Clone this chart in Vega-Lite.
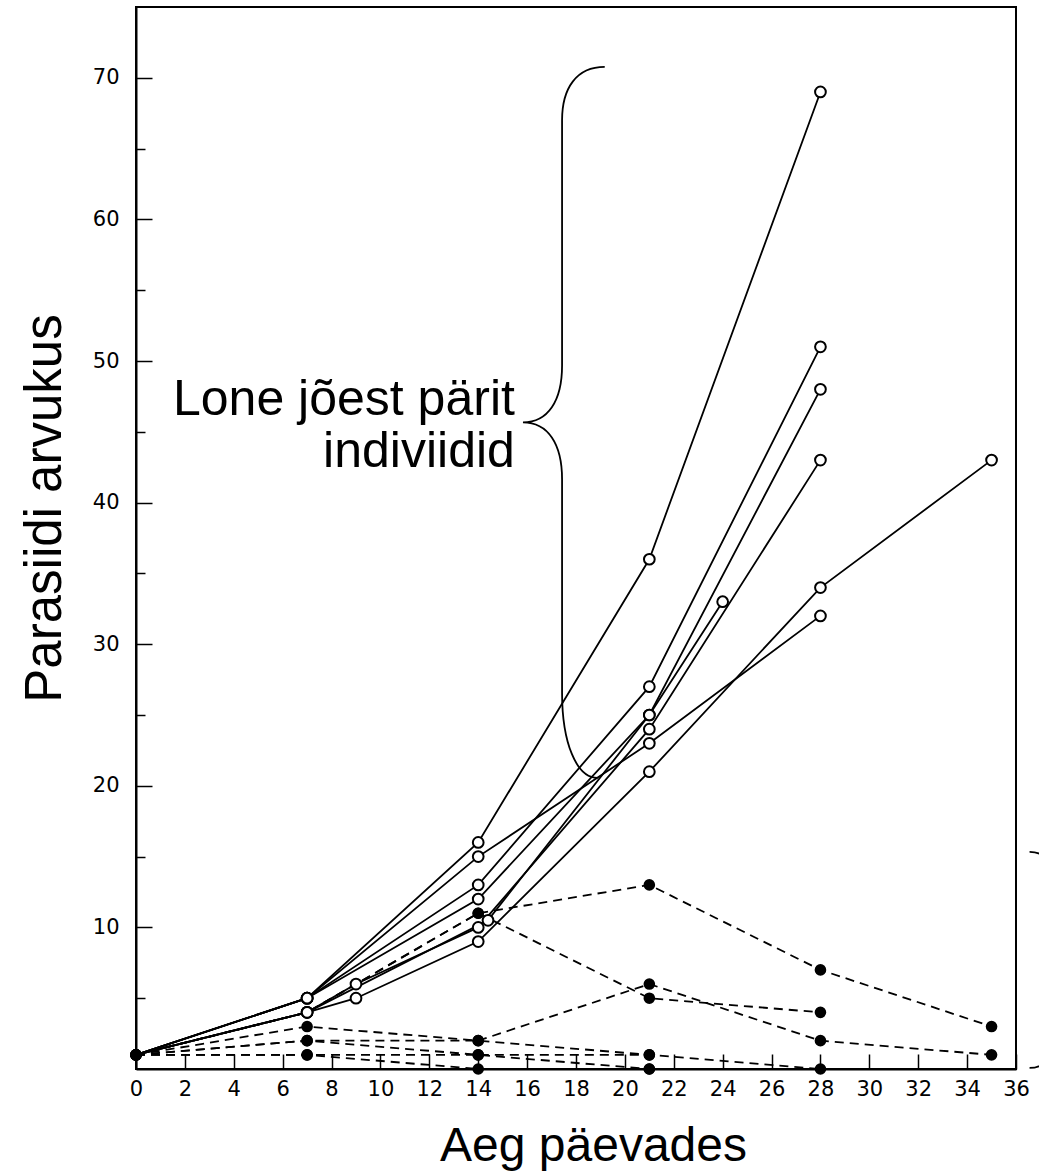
{
  "$schema": "https://vega.github.io/schema/vega-lite/v6.json",
  "width": 880,
  "height": 1062,
  "autosize": "none",
  "padding": {"left": 136, "top": 7, "right": 23, "bottom": 107},
  "background": "white",
  "config": {
    "view": {"stroke": "black", "strokeWidth": 2},
    "axis": {
      "domainColor": "black",
      "domainWidth": 2,
      "tickColor": "black",
      "tickWidth": 1.5,
      "grid": false,
      "labelColor": "black",
      "labelFont": "DejaVu Sans",
      "labelFontSize": 21,
      "titleFont": "Liberation Sans",
      "titleFontWeight": "normal",
      "titleColor": "black"
    }
  },
  "datasets": {
    "lone": [
      {"id": "L1", "day": 0, "n": 1}, {"id": "L1", "day": 7, "n": 5}, {"id": "L1", "day": 14, "n": 16}, {"id": "L1", "day": 21, "n": 36}, {"id": "L1", "day": 28, "n": 69},
      {"id": "L2", "day": 0, "n": 1}, {"id": "L2", "day": 7, "n": 5}, {"id": "L2", "day": 14, "n": 15}, {"id": "L2", "day": 21, "n": 23}, {"id": "L2", "day": 28, "n": 32},
      {"id": "L3", "day": 0, "n": 1}, {"id": "L3", "day": 7, "n": 4}, {"id": "L3", "day": 9, "n": 5}, {"id": "L3", "day": 14, "n": 9}, {"id": "L3", "day": 21, "n": 21}, {"id": "L3", "day": 28, "n": 34}, {"id": "L3", "day": 35, "n": 43},
      {"id": "L4", "day": 0, "n": 1}, {"id": "L4", "day": 7, "n": 4}, {"id": "L4", "day": 9, "n": 6}, {"id": "L4", "day": 14, "n": 10}, {"id": "L4", "day": 21, "n": 24}, {"id": "L4", "day": 28, "n": 43},
      {"id": "L5", "day": 0, "n": 1}, {"id": "L5", "day": 7, "n": 5}, {"id": "L5", "day": 14, "n": 13}, {"id": "L5", "day": 21, "n": 27}, {"id": "L5", "day": 28, "n": 51},
      {"id": "L6", "day": 0, "n": 1}, {"id": "L6", "day": 7, "n": 5}, {"id": "L6", "day": 14, "n": 12}, {"id": "L6", "day": 21, "n": 25}, {"id": "L6", "day": 28, "n": 48},
      {"id": "L7", "day": 0, "n": 1}, {"id": "L7", "day": 7, "n": 4}, {"id": "L7", "day": 14.4, "n": 10.5}, {"id": "L7", "day": 21, "n": 25}, {"id": "L7", "day": 24, "n": 33}
    ],
    "other": [
      {"id": "D1", "day": 0, "n": 1}, {"id": "D1", "day": 7, "n": 4}, {"id": "D1", "day": 14, "n": 11}, {"id": "D1", "day": 21, "n": 13}, {"id": "D1", "day": 28, "n": 7}, {"id": "D1", "day": 35, "n": 3},
      {"id": "D2", "day": 0, "n": 1}, {"id": "D2", "day": 7, "n": 4}, {"id": "D2", "day": 14, "n": 11}, {"id": "D2", "day": 21, "n": 5}, {"id": "D2", "day": 28, "n": 4},
      {"id": "D3", "day": 0, "n": 1}, {"id": "D3", "day": 7, "n": 3}, {"id": "D3", "day": 14, "n": 2}, {"id": "D3", "day": 21, "n": 6}, {"id": "D3", "day": 28, "n": 2}, {"id": "D3", "day": 35, "n": 1},
      {"id": "D4", "day": 0, "n": 1}, {"id": "D4", "day": 7, "n": 2}, {"id": "D4", "day": 14, "n": 1}, {"id": "D4", "day": 21, "n": 1}, {"id": "D4", "day": 28, "n": 0},
      {"id": "D5", "day": 0, "n": 1}, {"id": "D5", "day": 7, "n": 2}, {"id": "D5", "day": 14, "n": 2}, {"id": "D5", "day": 21, "n": 1},
      {"id": "D6", "day": 0, "n": 1}, {"id": "D6", "day": 7, "n": 1}, {"id": "D6", "day": 14, "n": 1}, {"id": "D6", "day": 21, "n": 0},
      {"id": "D7", "day": 0, "n": 1}, {"id": "D7", "day": 7, "n": 1}, {"id": "D7", "day": 14, "n": 0}, {"id": "D7", "day": 21, "n": 0}
    ]
  },
  "layer": [
    {
      "data": {"name": "other"},
      "mark": {"type": "line", "color": "black", "strokeWidth": 1.8, "strokeDash": [9, 6]},
      "encoding": {
        "x": {
          "field": "day", "type": "quantitative",
          "scale": {"domain": [0, 36], "nice": false, "zero": false},
          "axis": {
            "title": "Aeg päevades",
            "values": [0, 2, 4, 6, 8, 10, 12, 14, 16, 18, 20, 22, 24, 26, 28, 30, 32, 34, 36],
            "tickSize": -15,
            "labelPadding": 24,
            "labelFlush": false,
            "labelOverlap": false,
            "titleFontSize": 48,
            "titleX": 457,
            "titleY": 91,
            "titleBaseline": "alphabetic",
            "titleAlign": "center"
          }
        },
        "y": {
          "field": "n", "type": "quantitative",
          "scale": {"domain": [0, 75], "nice": false, "zero": false},
          "axis": {
            "title": "Parasiidi arvukus",
            "values": [5, 10, 15, 20, 25, 30, 35, 40, 45, 50, 55, 60, 65, 70],
            "labelExpr": "datum.value % 10 === 0 ? datum.label : ''",
            "tickSize": {"condition": {"test": "datum.value % 10 === 0", "value": -16}, "value": -9},
            "labelPadding": 33,
            "labelOverlap": false,
            "titleFontSize": 51,
            "titleX": -91,
            "titleY": 501,
            "titleAngle": 270,
            "titleBaseline": "middle",
            "titleAlign": "center"
          }
        },
        "detail": {"field": "id"}
      }
    },
    {
      "data": {"name": "lone"},
      "mark": {"type": "line", "color": "black", "strokeWidth": 1.8},
      "encoding": {
        "x": {"field": "day", "type": "quantitative"},
        "y": {"field": "n", "type": "quantitative"},
        "detail": {"field": "id"}
      }
    },
    {
      "data": {"name": "other"},
      "mark": {"type": "point", "shape": "circle", "filled": true, "color": "black", "opacity": 1, "size": 135},
      "encoding": {
        "x": {"field": "day", "type": "quantitative"},
        "y": {"field": "n", "type": "quantitative"}
      }
    },
    {
      "data": {"name": "lone"},
      "transform": [{"filter": "datum.day > 0"}],
      "mark": {"type": "point", "shape": "circle", "filled": true, "fill": "white", "stroke": "black", "strokeWidth": 2, "opacity": 1, "size": 115},
      "encoding": {
        "x": {"field": "day", "type": "quantitative"},
        "y": {"field": "n", "type": "quantitative"}
      }
    },
    {
      "data": {"values": [{"label": "annotation"}]},
      "mark": {"type": "text", "align": "right", "baseline": "alphabetic", "font": "Liberation Sans", "fontSize": 50, "lineHeight": 52, "color": "black", "text": ["Lone jõest pärit", "indiviidid"]},
      "encoding": {"x": {"datum": 15.5, "type": "quantitative"}, "y": {"datum": 46.2, "type": "quantitative"}}
    },
    {
      "data": {"values": [{"label": "brace"}]},
      "mark": {"type": "point", "filled": false, "stroke": "black", "strokeWidth": 1.8, "opacity": 1, "size": 505521,
        "shape": "M 0.12 -1 C 0.04 -1 0 -0.94 0 -0.85 L 0 -0.16 C 0 -0.06 -0.04 0 -0.11 0 C -0.04 0 0 0.06 0 0.16 L 0 0.76 C 0 0.9 0.04 1 0.10 1"},
      "encoding": {"x": {"datum": 17.43, "type": "quantitative"}, "y": {"datum": 45.66, "type": "quantitative"}}
    },
    {
      "data": {"values": [{"label": "brace2"}]},
      "mark": {"type": "point", "filled": false, "stroke": "black", "strokeWidth": 1.8, "opacity": 1, "size": 46656,
        "shape": "M -0.18 -1 C -0.06 -1 0 -0.94 0 -0.8 L 0 -0.15 C 0 -0.05 0.06 0 0.18 0 C 0.06 0 0 0.05 0 0.15 L 0 0.8 C 0 0.94 -0.06 1 -0.18 1"},
      "encoding": {"x": {"datum": 37.35, "type": "quantitative"}, "y": {"datum": 7.7, "type": "quantitative"}}
    }
  ]
}
